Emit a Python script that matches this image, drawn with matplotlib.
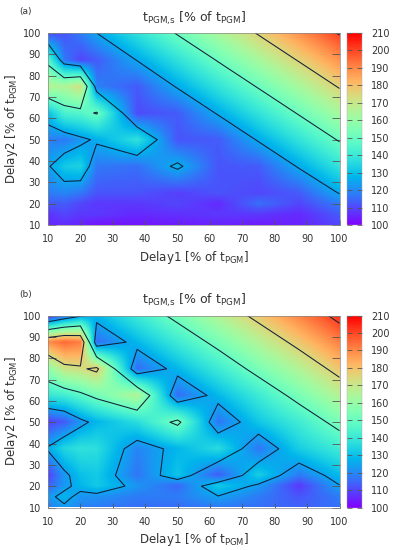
import numpy as np
import matplotlib
matplotlib.use("Agg")
import matplotlib.pyplot as plt

''' DATA '''
delay_grid = [10, 15, 20, 25, 37.5, 50, 62.5, 75, 87.5, 100]
levels = [125, 150, 175, 200]
cbar_ticks = list(range(100, 211, 10))
axis_ticks = list(range(10, 101, 10))

# rows are Delay2 = 10 ... 100, columns are Delay1 = 10 ... 100
tpgm_a = [
    [106, 106, 105, 103, 103, 104, 105, 104, 105, 110],
    [107, 110, 108, 108, 106, 107, 108, 108, 106, 113],
    [113, 113, 110, 108, 108, 110, 106, 116, 110, 118],
    [118, 119.6, 117.4, 112, 112, 109, 112, 110, 113, 125.5],
    [124, 132, 134, 117.5, 116, 127, 112, 113, 126, 138.5],
    [118.6, 117.6, 122.5, 126.5, 138, 112, 113, 126, 138.5, 151],
    [130, 144, 145.7, 151, 110.7, 113, 126, 138.5, 151, 163.5],
    [166, 165.4, 172.5, 118.6, 113, 126, 138.5, 151, 163.5, 176],
    [146, 117.3, 110, 113, 125.5, 138, 151, 163.5, 176, 188.5],
    [111, 112, 118, 125, 138, 151, 163.5, 176, 188.5, 201],
]
tpgm_b = [
    [118, 123.4, 119, 118, 116, 116, 118, 116, 114, 116],
    [122.5, 128, 122, 121.7, 118, 118, 124.4, 118, 112, 118],
    [114, 122.6, 128, 132, 122, 115, 132, 123, 108, 124.5],
    [109, 122.5, 130, 132, 117, 131, 113, 133, 118, 129],
    [126.4, 135, 138, 137, 119.4, 128, 136.5, 117, 133, 141.5],
    [109, 113, 122, 128, 137, 153, 117, 131.5, 141.5, 154],
    [140, 142, 147, 153, 166, 115.5, 128.5, 141, 154, 166.5],
    [159, 171, 173, 178, 115.5, 128.5, 141, 154, 166, 179],
    [190, 195, 192, 115.5, 128.5, 141, 153.5, 166, 178.5, 191.5],
    [105, 115, 123, 128.5, 141, 153.5, 166, 178.5, 191, 203.5],
]

''' FUNCTIONS '''
def upsample(z, fine):
    # bilinear resampling so the colours blend like pm3d interpolate
    g = np.array(delay_grid)
    z = np.array(z, dtype=float)
    rows = np.array([np.interp(fine, g, r) for r in z])
    return np.array([np.interp(fine, g, c) for c in rows.T]).T


def draw_panel(z, top_px, label, label_y):
    W, H = 395.0, 550.0
    left, right, height = 48.0, 339.5, 192.0
    ax = fig.add_axes([left/W, 1-(top_px+height)/H, (right-left)/W, height/H])
    fine = np.linspace(10, 100, 361)
    im = ax.imshow(upsample(z, fine), origin='lower', extent=[10, 100, 10, 100],
                   aspect='auto', cmap='rainbow', vmin=100, vmax=210,
                   interpolation='bilinear')
    ax.contour(delay_grid, delay_grid, z, levels=levels, colors='#10203a',
               linewidths=0.75)
    ax.set_xticks(axis_ticks)
    ax.set_yticks(axis_ticks)
    ax.tick_params(direction='in', width=0.6, color='#555555',
                   labelsize=7, labelcolor='#333333', right=True)
    ax.tick_params(axis='x', pad=6.5, length=3.5)
    ax.tick_params(axis='y', pad=5, length=5.5)
    ax.set_xlabel(r'Delay1 [% of t$_{\mathrm{PGM}}$]', fontsize=8.6,
                  color='#333333', labelpad=3.5)
    ax.set_ylabel(r'Delay2 [% of t$_{\mathrm{PGM}}$]', fontsize=8.6,
                  color='#333333', labelpad=2)
    ax.set_title(r't$_{\mathrm{PGM{,}s}}$ [% of t$_{\mathrm{PGM}}$]', fontsize=9,
                 color='#333333', pad=8)
    for s in ax.spines.values():
        s.set_linewidth(0.5)
        s.set_color('#888888')

    cax = fig.add_axes([347/W, 1-(top_px+height)/H, 14.5/W, height/H])
    cb = fig.colorbar(im, cax=cax)
    cb.set_ticks(cbar_ticks)
    cb.ax.tick_params(direction='in', length=3.5, width=0.6, color='#555555',
                      labelsize=7, labelcolor='#333333', pad=7, left=True)
    cb.outline.set_linewidth(0.3)
    cb.outline.set_edgecolor('#aaaaaa')
    fig.text(19/W, 1-label_y/H, label, fontsize=6.5, color='#333333',
             ha='left', va='center')


''' MAIN PROGRAM '''
plt.rcParams['font.family'] = ['DejaVu Sans']
plt.rcParams['mathtext.default'] = 'regular'

fig = plt.figure(figsize=(3.95, 5.5), dpi=100)
draw_panel(tpgm_a, 33.0, '(a)', 11.5)
draw_panel(tpgm_b, 315.5, '(b)', 294)
fig.savefig('out.png', dpi=100)
